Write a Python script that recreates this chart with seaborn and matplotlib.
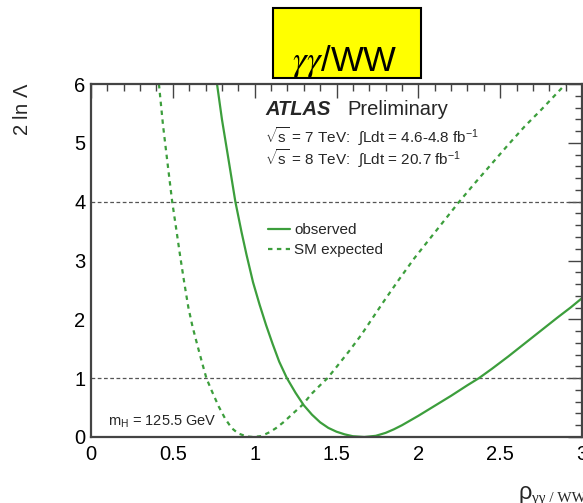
import matplotlib
matplotlib.use("Agg")
import matplotlib.pyplot as plt
import seaborn as sns
import pandas as pd
from matplotlib.patches import Rectangle
from matplotlib.ticker import MultipleLocator

# ---- data ----
obs_x = [0.77, 0.80, 0.84, 0.882, 0.92, 0.95, 0.99, 1.03, 1.07, 1.11, 1.15, 1.197, 1.25, 1.30,
         1.35, 1.40, 1.45, 1.50, 1.55, 1.60, 1.67, 1.74, 1.80, 1.85, 1.90, 2.00, 2.10, 2.20, 2.30,
         2.37, 2.45, 2.55, 2.65, 2.75, 2.85, 2.93, 3.00]
obs_y = [6.0, 5.4, 4.72, 4.0, 3.48, 3.1, 2.63, 2.25, 1.90, 1.58, 1.28, 1.0, 0.75, 0.54,
         0.38, 0.25, 0.155, 0.09, 0.045, 0.013, 0.0, 0.02, 0.07, 0.13, 0.20, 0.36, 0.53, 0.70, 0.88,
         1.0, 1.16, 1.37, 1.59, 1.81, 2.03, 2.20, 2.36]
exp_x = [0.415, 0.44, 0.47, 0.496, 0.52, 0.545, 0.57, 0.595, 0.62, 0.65, 0.68, 0.705, 0.74,
         0.78, 0.82, 0.86, 0.90, 0.95, 0.99, 1.04, 1.09, 1.13, 1.18, 1.23, 1.29, 1.35, 1.40,
         1.445, 1.50, 1.58, 1.65, 1.72, 1.79, 1.88, 1.976, 2.05, 2.13, 2.25, 2.35, 2.45, 2.55,
         2.65, 2.75, 2.90]
exp_y = [6.0, 5.3, 4.6, 4.0, 3.55, 3.07, 2.62, 2.2, 1.88, 1.56, 1.25, 1.0, 0.77,
         0.52, 0.31, 0.15, 0.06, 0.01, 0.0, 0.015, 0.08, 0.15, 0.26, 0.39, 0.54, 0.74, 0.88,
         1.0, 1.19, 1.47, 1.73, 2.02, 2.31, 2.67, 3.04, 3.30, 3.58, 4.0, 4.33, 4.65, 4.97,
         5.28, 5.56, 6.0]
ref_levels = [1, 4]
xticks = [0, 0.5, 1, 1.5, 2, 2.5, 3]
xticklabels = ["0", "0.5", "1", "1.5", "2", "2.5", "3"]
yticks = [0, 1, 2, 3, 4, 5, 6]

sns.set_style("white")
plt.rcParams['font.family'] = ['Liberation Sans', 'DejaVu Sans']
plt.rcParams['mathtext.fontset'] = 'custom'
plt.rcParams['mathtext.rm'] = 'Liberation Sans'
plt.rcParams['mathtext.it'] = 'Liberation Sans:italic'
plt.rcParams['mathtext.bf'] = 'Liberation Sans:bold'

W, H = 583, 503
fig = plt.figure(figsize=(W / 100, H / 100), dpi=100)
L, R, T, B = 91, 582, 84, 437
ax = fig.add_axes([L / W, 1 - B / H, (R - L) / W, (B - T) / H])

green = '#3c9e3c'
df_obs = pd.DataFrame({'x': obs_x, 'y': obs_y})
df_exp = pd.DataFrame({'x': exp_x, 'y': exp_y})
sns.lineplot(data=df_obs, x='x', y='y', ax=ax, color=green, lw=1.6, label='observed', sort=False)
sns.lineplot(data=df_exp, x='x', y='y', ax=ax, color=green, lw=1.6, label='SM expected', sort=False,
             linestyle=(0, (2.0, 2.0)))
for lv in ref_levels:
    ax.axhline(lv, color='#555555', lw=0.9, linestyle=(0, (3, 2)), zorder=1)

ax.set_xlim(0, 3)
ax.set_ylim(0, 6)
ax.set_xticks(xticks)
ax.set_xticklabels(xticklabels)
ax.set_yticks(yticks)
ax.xaxis.set_minor_locator(MultipleLocator(0.1))
ax.yaxis.set_minor_locator(MultipleLocator(0.2))
ax.tick_params(which='both', direction='in', top=True, right=True, color='#444444', width=1.0,
               labelsize=14.5, labelcolor='black')
ax.tick_params(which='major', length=10, pad=4)
ax.tick_params(which='minor', length=5)
ax.tick_params(axis='x', which='major', pad=6)
for s in ax.spines.values():
    s.set_color('#444444')
    s.set_linewidth(1.6)
ax.set_xlabel('')
ax.set_ylabel('')

leg = ax.legend(loc='upper left', bbox_to_anchor=((268 - L) / (R - L), 1 - (223 - T) / (B - T)),
                frameon=False, fontsize=11, handlelength=1.45, handletextpad=0.25,
                labelspacing=0.4, borderaxespad=0, borderpad=0)

# labels
fig.text(22 / W, 1 - 83 / H, r'2 ln $\Lambda$', rotation=90, ha='center', va='top', fontsize=14.5)
fig.text(519 / W, 1 - 499 / H, 'ρ', ha='left', va='baseline', fontsize=17)
fig.text(532 / W, 1 - 502 / H, 'γγ / WW', ha='left', va='baseline', fontsize=11,
         family=['Liberation Serif', 'DejaVu Sans'])

# ATLAS text
fig.text(265 / W, 1 - 115 / H, 'ATLAS', fontsize=14.5, fontweight='bold', fontstyle='italic',
         ha='left', va='baseline')
fig.text(347 / W, 1 - 115 / H, 'Preliminary', fontsize=14.5, ha='left', va='baseline')
fig.text(265 / W, 1 - 142 / H, r'$\sqrt{\mathrm{s}}$ = 7 TeV:  $\int$Ldt = 4.6-4.8 fb$^{\mathrm{-1}}$',
         fontsize=11, ha='left', va='baseline')
fig.text(265 / W, 1 - 164 / H, r'$\sqrt{\mathrm{s}}$ = 8 TeV:  $\int$Ldt = 20.7 fb$^{\mathrm{-1}}$',
         fontsize=11, ha='left', va='baseline')
fig.text(108 / W, 1 - 426 / H, r'm$_{\mathrm{H}}$ = 125.5 GeV', fontsize=10.5, ha='left', va='baseline')

# title box
fig.patches.append(Rectangle((273 / W, 1 - 78 / H), (421 - 273) / W, (78 - 8) / H,
                             transform=fig.transFigure, facecolor='#ffff00', edgecolor='black',
                             lw=1.5, zorder=0))
fig.text(345 / W, 1 - 71 / H, r'$\gamma\gamma$/WW', fontsize=25, ha='center', va='baseline',
         math_fontfamily='stix', color='black')

fig.savefig('out.png', dpi=100)
